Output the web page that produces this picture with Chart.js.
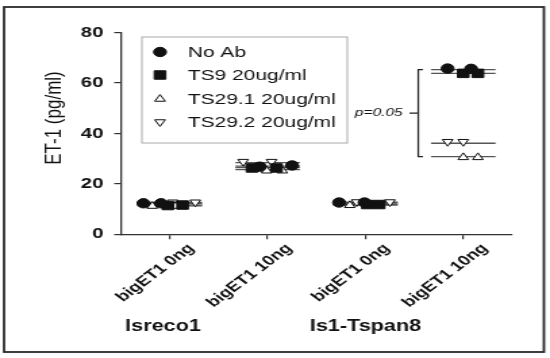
<!DOCTYPE html>
<html><head><meta charset="utf-8">
<script src="https://cdn.jsdelivr.net/npm/chart.js@4.4.1/dist/chart.umd.min.js"></script>
<style>
html,body{margin:0;padding:0;background:#fff;overflow:hidden;}
#wrap{width:407px;height:358px;transform:scaleX(1.351351);transform-origin:0 0;}
canvas{display:block;}
</style></head><body>
<div id="wrap"><canvas id="c" width="407" height="358"></canvas></div>
<script>
// ---- data ----
const categories = ['bigET1 0ng', 'bigET1 10ng', 'bigET1 0ng', 'bigET1 10ng'];
const groupLabels = ['Isreco1', 'Is1-Tspan8'];
const groupCentres = [0.93, 3.0];
const seriesNames = ['No Ab', 'TS9 20ug/ml', 'TS29.1 20ug/ml', 'TS29.2 20ug/ml'];
const yTicks = [0, 20, 40, 60, 80];
const yTitle = 'ET-1 (pg/ml)';
const pText = 'p=0.05';

// replicate values (pg/ml) per category
const noAb  = [[12.3, 12.3], [26.8, 27.3], [12.6, 12.6], [65.7, 65.6]];
const ts9   = [[11.4, 11.6], [26.3, 26.3], [11.8, 11.8], [63.8, 63.8]];
const ts291 = [[11.2, 11.2], [25.2, 25.2], [11.5, 11.5], [30.5, 30.5]];
const ts292 = [[12.7, 12.7], [28.8, 28.8], [12.8, 12.8], [36.7, 36.7]];
// horizontal scatter offsets of each replicate from its category (category units)
const noAbJit  = [[-0.27, -0.09], [-0.08, 0.25], [-0.27, -0.01], [-0.16, 0.08]];
const ts9Jit   = [[-0.02, 0.13], [-0.16, 0.09], [0.02, 0.14], [0.0, 0.15]];
const ts291Jit = [[-0.18, 0.06], [-0.01, 0.15], [-0.16, 0.06], [0.0, 0.15]];
const ts292Jit = [[0.03, 0.26], [-0.25, 0.04], [-0.09, 0.25], [-0.16, 0.0]];
// mean lines drawn in the reference
const noAbMean  = [12.2, 27.0, 12.4, 65.3];
const ts9Mean   = [11.6, 26.4, 11.9, 63.8];
const ts291Mean = [11.3, 25.6, 11.6, 30.8];
const ts292Mean = [12.6, 28.4, 12.7, 36.1];
// significance bracket: spans No Ab mean to TS29.1 mean of last category
const bracketCategory = 4;

// ---- build chart ----
const FONT = "'Liberation Sans', Arial, sans-serif";
Chart.defaults.font.family = FONT;
const lineHalf = 0.33;
const series = [
  {name: seriesNames[0], vals: noAb, jit: noAbJit, mean: noAbMean, style: 'circle', r: 4.7, fill: '#111', rot: 0},
  {name: seriesNames[1], vals: ts9, jit: ts9Jit, mean: ts9Mean, style: 'rect', r: 6, fill: '#111', rot: 0},
  {name: seriesNames[2], vals: ts291, jit: ts291Jit, mean: ts291Mean, style: 'triangle', r: 4.5, fill: '#fff', rot: 0},
  {name: seriesNames[3], vals: ts292, jit: ts292Jit, mean: ts292Mean, style: 'triangle', r: 4.5, fill: '#fff', rot: 180}
];
const datasets = [];
series.forEach((s, si) => {
  const pts = [];
  s.vals.forEach((reps, ci) => reps.forEach((v, ri) => pts.push({x: ci + 1 + s.jit[ci][ri], y: v})));
  datasets.push({type: 'scatter', label: s.name, data: pts, pointStyle: s.style, pointRadius: s.r,
    pointRotation: s.rot, backgroundColor: s.fill, borderColor: '#111', borderWidth: 1, order: si});
});
series.forEach((s) => {
  const pts = [];
  s.mean.forEach((m, ci) => { pts.push({x: ci + 1 - lineHalf, y: m}, {x: ci + 1 + lineHalf, y: m}, {x: ci + 1.5, y: null}); });
  datasets.push({type: 'line', label: s.name + ' mean', data: pts, borderColor: '#555', borderWidth: 1.3,
    pointRadius: 0, spanGaps: false, showLine: true, fill: false, order: 10});
});

const decor = {
  id: 'decor',
  afterDraw(chart) {
    const ctx = chart.ctx, xs = chart.scales.x, ys = chart.scales.y;
    ctx.save();
    // frame
    ctx.strokeStyle = '#2a2a2a'; ctx.lineWidth = 1.8;
    ctx.strokeRect(3, 7, 399.5, 345);
    // legend
    ctx.strokeStyle = '#aaa'; ctx.lineWidth = 1;
    ctx.strokeRect(105, 37, 152, 106);
    ctx.font = '15.5px ' + FONT; ctx.fillStyle = '#111'; ctx.textBaseline = 'middle'; ctx.textAlign = 'left';
    const rows = [52, 75, 99, 122];
    series.forEach((s, i) => {
      ctx.fillStyle = s.fill; ctx.strokeStyle = '#111'; ctx.lineWidth = 1;
      Chart.helpers.drawPoint(ctx, {pointStyle: s.style, radius: s.r, rotation: s.rot, borderWidth: 1}, 118.4, rows[i]);
      ctx.fillStyle = '#111';
      ctx.fillText(s.name, 139, rows[i] + 1);
    });
    // y title
    ctx.save();
    ctx.translate(40.7, 118); ctx.rotate(-Math.PI / 2);
    ctx.font = '17px ' + FONT; ctx.textAlign = 'center'; ctx.textBaseline = 'middle'; ctx.fillStyle = '#111';
    ctx.fillText(yTitle, 0, 0);
    ctx.restore();
    // group labels
    ctx.font = 'bold 16px ' + FONT; ctx.textAlign = 'center'; ctx.textBaseline = 'alphabetic'; ctx.fillStyle = '#111';
    groupLabels.forEach((g, i) => ctx.fillText(g, xs.getPixelForValue(groupCentres[i]), 330.5));
    // bracket
    const bx = xs.getPixelForValue(bracketCategory - 0.46);
    const yt = ys.getPixelForValue(noAbMean[bracketCategory - 1]);
    const yb = ys.getPixelForValue(ts291Mean[bracketCategory - 1]);
    const ym = (yt + yb) / 2;
    ctx.strokeStyle = '#222'; ctx.lineWidth = 1.2;
    ctx.beginPath();
    ctx.moveTo(bx + 3.5, yt); ctx.lineTo(bx, yt); ctx.lineTo(bx, yb); ctx.lineTo(bx + 3.5, yb);
    ctx.moveTo(bx - 6.5, ym); ctx.lineTo(bx, ym);
    ctx.stroke();
    ctx.font = 'italic 11.5px ' + FONT; ctx.textAlign = 'right'; ctx.textBaseline = 'middle';
    ctx.fillText(pText, bx - 11.5, ym);
    ctx.restore();
  }
};

new Chart(document.getElementById('c'), {
  type: 'scatter',
  data: {datasets},
  options: {
    responsive: false, animation: false, devicePixelRatio: 1,
    layout: {padding: {top: 32.5, right: 28, left: 0, bottom: 0}},
    plugins: {legend: {display: false}, tooltip: {enabled: false}},
    scales: {
      x: {type: 'linear', min: 0.5, max: 4.5,
        afterBuildTicks: (sc) => { sc.ticks = categories.map((c, i) => ({value: i + 1})); },
        afterFit: (sc) => { sc.height = 358 - 234.3; },
        ticks: {callback: (v) => categories[Math.round(v) - 1] || '', minRotation: 45, maxRotation: 45, autoSkip: false,
          font: {weight: 'bold', size: 14}, color: '#111', labelOffset: 16, padding: 1},
        grid: {drawOnChartArea: false, drawTicks: true, tickLength: 5, color: '#333', lineWidth: 1.2},
        border: {color: '#333', width: 1.3}
      },
      y: {min: 0, max: 80,
        afterBuildTicks: (sc) => { sc.ticks = yTicks.map(v => ({value: v})); },
        afterFit: (sc) => { sc.width = 89.5; },
        ticks: {font: {weight: 'bold', size: 15}, color: '#111', padding: 8},
        grid: {drawOnChartArea: false, drawTicks: true, tickLength: 5, color: '#333', lineWidth: 1.2},
        border: {color: '#333', width: 1.3}
      }
    }
  },
  plugins: [decor]
});
</script></body></html>
